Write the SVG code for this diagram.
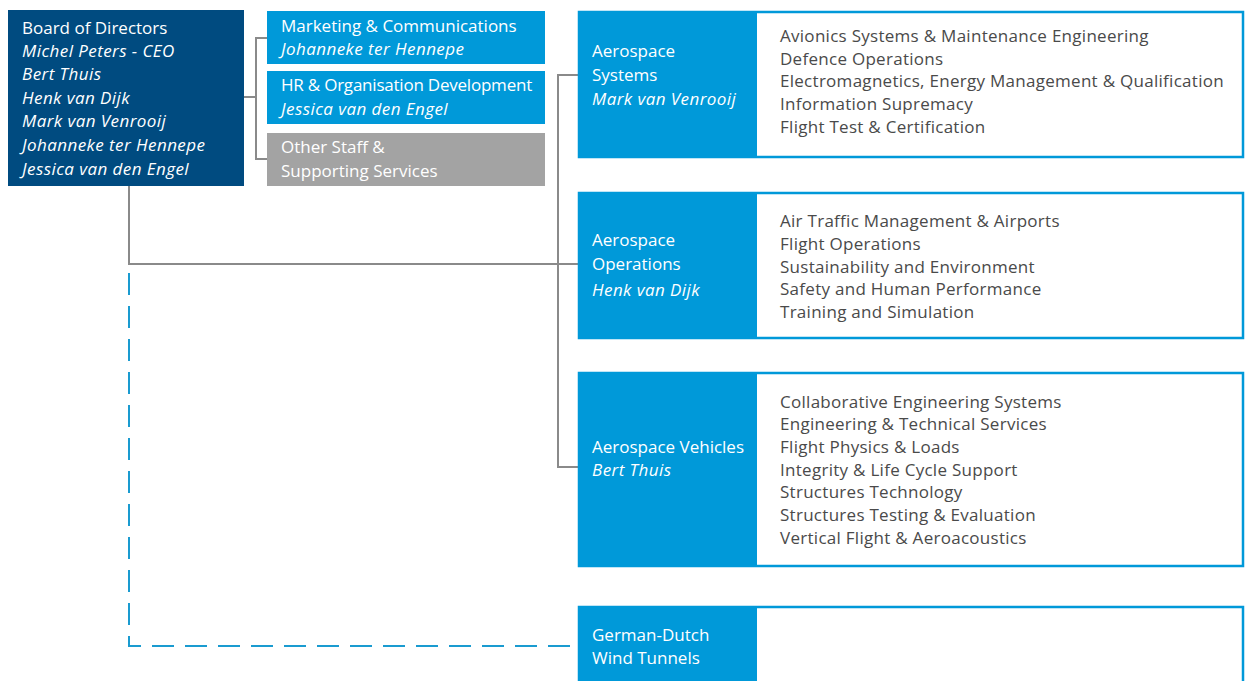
<svg xmlns="http://www.w3.org/2000/svg" width="1248" height="681" viewBox="0 0 1248 681">
<style>
text{font-family:"Open Sans","Noto Sans","Liberation Sans",sans-serif;font-size:17px}
.w{fill:#ffffff}
.g{fill:#4a4a4a;letter-spacing:0.28px}
.i{font-style:italic;letter-spacing:0.43px}
.blue{fill:#0099d9}
.frame{fill:#ffffff;stroke:#0099d9;stroke-width:2.5}
.conn{fill:none;stroke:#8a8a8a;stroke-width:2}
.dash{fill:none;stroke:#1a9bd0;stroke-width:2;stroke-dasharray:22 11}
</style>
<rect width="1248" height="681" fill="#ffffff"/>
<g id="connectors">
<path class="conn" d="M244 97 H256 M267 38 H256 V159 H267"/>
<path class="conn" d="M129 186 V264 H578"/>
<path class="conn" d="M578 75 H558 V467 H578"/>
<path class="dash" d="M129 273 V646 H578"/>
</g>
<g id="board">
<rect x="8" y="10" width="236" height="176" fill="#004b80"/>
<text class="w" x="22" y="34">Board of Directors</text>
<text class="w i" x="22" y="57">Michel Peters - CEO</text>
<text class="w i" x="22" y="80">Bert Thuis</text>
<text class="w i" x="22" y="104">Henk van Dijk</text>
<text class="w i" x="22" y="127">Mark van Venrooij</text>
<text class="w i" x="22" y="151">Johanneke ter Hennepe</text>
<text class="w i" x="22" y="175">Jessica van den Engel</text>
</g>
<g id="marketing">
<rect class="blue" x="267" y="11" width="278" height="53"/>
<text class="w" x="281" y="32">Marketing &amp; Communications</text>
<text class="w i" x="281" y="55">Johanneke ter Hennepe</text>
</g>
<g id="hr">
<rect class="blue" x="267" y="71" width="278" height="53"/>
<text class="w" x="281" y="91" style="letter-spacing:-0.22px">HR &amp; Organisation Development</text>
<text class="w i" x="281" y="115">Jessica van den Engel</text>
</g>
<g id="other-staff">
<rect x="267" y="133" width="278" height="53" fill="#a3a3a3"/>
<text class="w" x="281" y="153">Other Staff &amp;</text>
<text class="w" x="281" y="177">Supporting Services</text>
</g>
<g id="aerospace-systems">
<rect class="frame" x="579" y="12" width="664" height="145"/>
<rect class="blue" x="578" y="11" width="179" height="147"/>
<text class="w" x="592" y="57">Aerospace</text>
<text class="w" x="592" y="81">Systems</text>
<text class="w i" x="592" y="105">Mark van Venrooij</text>
<text class="g" x="780" y="42">Avionics Systems &amp; Maintenance Engineering</text>
<text class="g" x="780" y="65">Defence Operations</text>
<text class="g" x="780" y="87">Electromagnetics, Energy Management &amp; Qualification</text>
<text class="g" x="780" y="110">Information Supremacy</text>
<text class="g" x="780" y="133">Flight Test &amp; Certification</text>
</g>
<g id="aerospace-operations">
<rect class="frame" x="579" y="193" width="664" height="145"/>
<rect class="blue" x="578" y="192" width="179" height="147"/>
<text class="w" x="592" y="246">Aerospace</text>
<text class="w" x="592" y="270">Operations</text>
<text class="w i" x="592" y="296">Henk van Dijk</text>
<text class="g" x="780" y="227">Air Traffic Management &amp; Airports</text>
<text class="g" x="780" y="250">Flight Operations</text>
<text class="g" x="780" y="273">Sustainability and Environment</text>
<text class="g" x="780" y="295">Safety and Human Performance</text>
<text class="g" x="780" y="318">Training and Simulation</text>
</g>
<g id="aerospace-vehicles">
<rect class="frame" x="579" y="373" width="664" height="193"/>
<rect class="blue" x="578" y="372" width="179" height="195"/>
<text class="w" x="592" y="453">Aerospace Vehicles</text>
<text class="w i" x="592" y="476">Bert Thuis</text>
<text class="g" x="780" y="408">Collaborative Engineering Systems</text>
<text class="g" x="780" y="430">Engineering &amp; Technical Services</text>
<text class="g" x="780" y="453">Flight Physics &amp; Loads</text>
<text class="g" x="780" y="476">Integrity &amp; Life Cycle Support</text>
<text class="g" x="780" y="498">Structures Technology</text>
<text class="g" x="780" y="521">Structures Testing &amp; Evaluation</text>
<text class="g" x="780" y="544">Vertical Flight &amp; Aeroacoustics</text>
</g>
<g id="german-dutch-wind-tunnels">
<rect class="frame" x="579" y="607" width="664" height="90"/>
<rect class="blue" x="578" y="606" width="179" height="80"/>
<text class="w" x="592" y="641">German-Dutch</text>
<text class="w" x="592" y="664">Wind Tunnels</text>
</g>
</svg>
